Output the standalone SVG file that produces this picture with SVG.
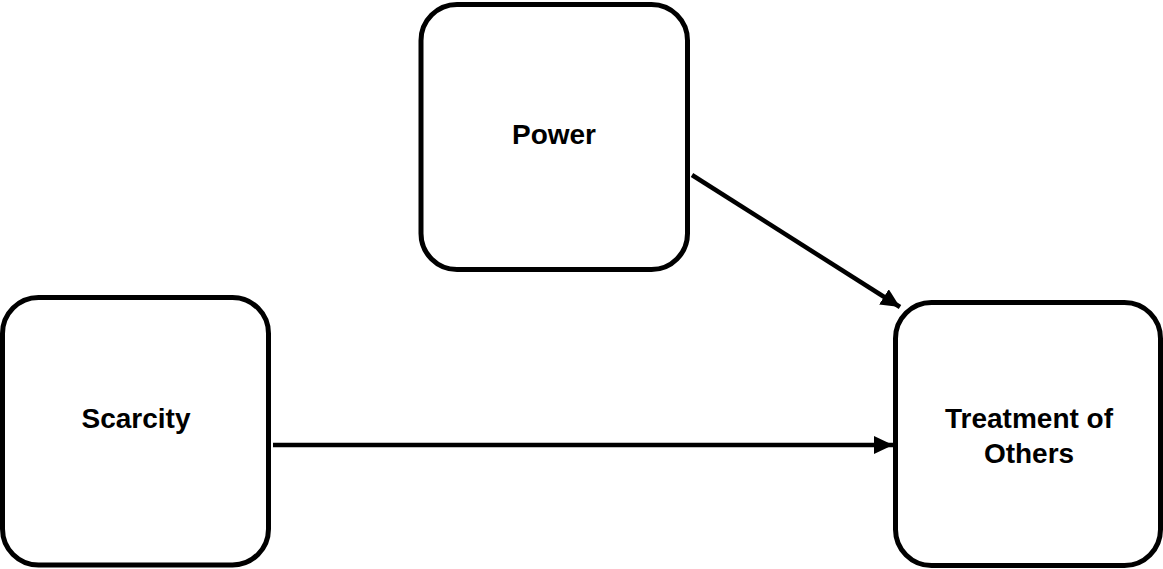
<svg xmlns="http://www.w3.org/2000/svg" width="1163" height="569" viewBox="0 0 1163 569">
  <style>
    .box { fill: #ffffff; stroke: #000000; stroke-width: 5; }
    .label { font-family: "Liberation Sans", Arial, Helvetica, sans-serif; font-weight: bold; font-size: 28px; fill: #000000; text-anchor: middle; }
    .edge { fill: none; stroke: #000000; stroke-width: 4.5; }
  </style>
  <defs>
    <marker id="arrow" markerUnits="userSpaceOnUse" markerWidth="20" markerHeight="18" refX="19" refY="9" orient="auto">
      <path d="M0,0 L19,9 L0,18 Z" fill="#000000"/>
    </marker>
  </defs>
  <rect width="1163" height="569" fill="#ffffff"/>

  <g id="node-power">
    <rect class="box" x="421" y="4.5" width="266.5" height="265" rx="36" ry="36"/>
    <text class="label" x="554" y="144">Power</text>
  </g>

  <g id="node-scarcity">
    <rect class="box" x="2.5" y="297.5" width="266" height="267.5" rx="36" ry="36"/>
    <text class="label" x="136" y="428">Scarcity</text>
  </g>

  <g id="node-treatment">
    <rect class="box" x="895.5" y="302.5" width="265" height="263" rx="36" ry="36"/>
    <text class="label" x="1029" y="428">Treatment of</text>
    <text class="label" x="1029" y="463">Others</text>
  </g>

  <g id="connectors">
    <line class="edge" x1="273" y1="445" x2="893" y2="445" marker-end="url(#arrow)"/>
    <line class="edge" x1="692" y1="175" x2="900" y2="307" marker-end="url(#arrow)"/>
  </g>
</svg>
